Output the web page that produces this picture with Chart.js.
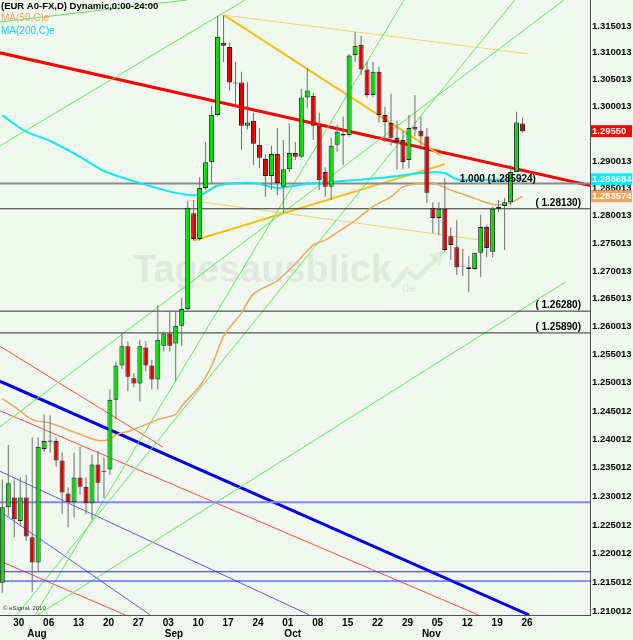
<!DOCTYPE html>
<html>
<head>
<meta charset="utf-8">
<title>EUR A0-FX daily</title>
<script src="https://cdn.jsdelivr.net/npm/chart.js@4.4.1/dist/chart.umd.min.js"></script>
<style>
  html, body { margin: 0; padding: 0; background: #f0f8f0; }
  canvas { display: block; }
</style>
</head>
<body>
<canvas id="fxChart" width="633" height="640"></canvas>
<script>
// daily bars, index 0 = Thu 26 Jul, index 87 = Mon 26 Nov
const candleOpen = [
  1.2150, 1.2281, 1.2298, 1.2257, 1.2298, 1.2229, 1.2185, 1.2383, 1.2398, 1.2397,
  1.2363, 1.2305, 1.2290, 1.2333, 1.2317, 1.2288, 1.2356, 1.2343, 1.2347, 1.2470,
  1.2531, 1.2565, 1.2508, 1.2499, 1.2563, 1.2531, 1.2506, 1.2566, 1.2588, 1.2570,
  1.2602, 1.2632, 1.2805, 1.2758, 1.2851, 1.2898, 1.2985, 1.3119, 1.3111, 1.3045,
  1.3045, 1.2965, 1.2974, 1.2930, 1.2904, 1.2873, 1.2913, 1.2853, 1.2885, 1.2915,
  1.2908, 1.3017, 1.3020, 1.2965, 1.2880, 1.2853, 1.2930, 1.2950, 1.2948, 1.3096,
  1.3115, 1.3069, 1.3022, 1.3065, 1.2985, 1.2970, 1.2943, 1.2939, 1.2902, 1.2963,
  1.2956, 1.2945, 1.2815, 1.2796, 1.2813, 1.2763, 1.2743, 1.2709, 1.2707, 1.2704,
  1.2733, 1.2780, 1.2735, 1.2813, 1.2818, 1.2825, 1.2880, 1.2969
];
const candleHigh = [
  1.2330, 1.2390, 1.2330, 1.2333, 1.2338, 1.2404, 1.2404, 1.2444, 1.2442, 1.2404,
  1.2377, 1.2316, 1.2377, 1.2387, 1.2333, 1.2373, 1.2380, 1.2368, 1.2488, 1.2538,
  1.2590, 1.2574, 1.2517, 1.2577, 1.2574, 1.2541, 1.2638, 1.2591, 1.2627, 1.2627,
  1.2652, 1.2827, 1.2829, 1.2871, 1.2935, 1.3002, 1.3169, 1.3170, 1.3119, 1.3083,
  1.3065, 1.3046, 1.2989, 1.2961, 1.2913, 1.2928, 1.2961, 1.2939, 1.2969, 1.2935,
  1.3033, 1.3072, 1.3026, 1.2989, 1.2889, 1.2943, 1.2967, 1.2982, 1.3098, 1.3139,
  1.3132, 1.3083, 1.3083, 1.3074, 1.3000, 1.3024, 1.2974, 1.2956, 1.2985, 1.3022,
  1.2982, 1.2961, 1.2825, 1.2825, 1.2869, 1.2779, 1.2792, 1.2740, 1.2727, 1.2733,
  1.2802, 1.2784, 1.2816, 1.2829, 1.2833, 1.2893, 1.2991, 1.2980
];
const candleLow = [
  1.2133, 1.2265, 1.2229, 1.2248, 1.2222, 1.2135, 1.2168, 1.2378, 1.2377, 1.2352,
  1.2269, 1.2246, 1.2263, 1.2303, 1.2269, 1.2260, 1.2290, 1.2297, 1.2338, 1.2435,
  1.2524, 1.2485, 1.2492, 1.2467, 1.2520, 1.2488, 1.2488, 1.2556, 1.2556, 1.2502,
  1.2565, 1.2629, 1.2755, 1.2755, 1.2847, 1.2860, 1.2982, 1.3083, 1.3030, 1.3000,
  1.2921, 1.2958, 1.2893, 1.2887, 1.2835, 1.2847, 1.2838, 1.2805, 1.2880, 1.2902,
  1.2906, 1.2998, 1.2939, 1.2847, 1.2835, 1.2829, 1.2917, 1.2893, 1.2945, 1.3083,
  1.3059, 1.3017, 1.3017, 1.2971, 1.2935, 1.2928, 1.2884, 1.2885, 1.2887, 1.2945,
  1.2921, 1.2824, 1.2769, 1.2765, 1.2735, 1.2720, 1.2693, 1.2691, 1.2662, 1.2702,
  1.2689, 1.2725, 1.2725, 1.2807, 1.2738, 1.2820, 1.2880, 1.2952
];
const candleClose = [
  1.2281, 1.2323, 1.2260, 1.2298, 1.2230, 1.2185, 1.2387, 1.2397, 1.2396, 1.2363,
  1.2307, 1.2290, 1.2333, 1.2317, 1.2288, 1.2356, 1.2324, 1.2345, 1.2470, 1.2531,
  1.2565, 1.2511, 1.2499, 1.2565, 1.2531, 1.2506, 1.2577, 1.2588, 1.2566, 1.2602,
  1.2632, 1.2815, 1.2758, 1.2851, 1.2898, 1.2985, 1.3130, 1.3113, 1.3045, 1.3043,
  1.2965, 1.2971, 1.2932, 1.2906, 1.2873, 1.2913, 1.2860, 1.2885, 1.2915, 1.2908,
  1.3017, 1.3030, 1.2965, 1.2865, 1.2853, 1.2928, 1.2954, 1.2947, 1.3095, 1.3113,
  1.3069, 1.3022, 1.3065, 1.2985, 1.2972, 1.2943, 1.2935, 1.2898, 1.2961, 1.2958,
  1.2945, 1.2842, 1.2796, 1.2813, 1.2738, 1.2747, 1.2707, 1.2708, 1.2704, 1.2733,
  1.2780, 1.2742, 1.2813, 1.2816, 1.2825, 1.2880, 1.2971, 1.2955
];

// moving averages, read at a few bars
const ma50Idx = [0, 2, 5, 8, 11, 14, 16, 18, 19, 21, 24, 26, 29, 30, 33, 35, 37, 40, 42, 46,
  49, 52, 54, 57, 59, 62, 65, 67, 69, 72, 75, 79, 81, 83, 85, 87];
const ma50Val = [1.2472, 1.2458, 1.2435, 1.2429, 1.2417, 1.2405, 1.2398, 1.2400, 1.2408, 1.2414,
  1.2426, 1.2435, 1.2444, 1.2459, 1.2494, 1.2530, 1.2583, 1.2625, 1.2659, 1.2683,
  1.2713, 1.2747, 1.2756, 1.2777, 1.2792, 1.2817, 1.2835, 1.2853, 1.2858, 1.2860,
  1.2847, 1.2832, 1.2824, 1.2820, 1.2824, 1.283574];
const ma200Idx = [0, 4, 8, 13, 17, 23, 29, 33, 36, 42, 46, 50, 54, 63, 71, 74, 76, 80, 85, 87];
const ma200Val = [1.2984, 1.2954, 1.2937, 1.2908, 1.2882, 1.2860, 1.2842, 1.2838, 1.2855, 1.2860,
  1.2851, 1.2857, 1.2861, 1.2869, 1.2879, 1.2878, 1.2867, 1.2866, 1.2866, 1.286684];

// drawn lines: [start bar, start price, end bar, end price]
const redTrend = [-0.4, 1.3100, 98.3, 1.28555];
const blueTrend = [-0.4, 1.25029, 88.1, 1.20945];
const redChannel = [[-0.4, 1.25651, 26.9, 1.23864], [-0.4, 1.24507, 79.55, 1.20948], [-0.4, 1.21875, 20.5, 1.20948]];
const blueChannel = [[-0.4, 1.23440, 51.3, 1.20948], [-0.4, 1.22739, 24.7, 1.20948]];
const greenFan = [
  [-0.4, 1.31574, 30.9, 1.31987], [-0.4, 1.29280, 40.6, 1.31987], [-0.4, 1.24223, 93.9, 1.31987],
  [5.47, 1.20945, 67.2, 1.31987], [2.39, 1.20945, 85.7, 1.31987], [5.9, 1.20945, 94.1, 1.26800]
];
const goldLines = [[37.07, 1.31704, 73.2, 1.29114], [32.06, 1.27555, 74.0, 1.28945]];
const paleLines = [[37.07, 1.31704, 87.9, 1.30982], [30.9, 1.28290, 82.4, 1.27527]];

// horizontal levels
const blackLevels = [1.2813, 1.2628, 1.2589];
const blackLevelText = ['( 1.28130)', '( 1.26280)', '( 1.25890)'];
const fibLevel = 1.285924;
const blueLevels = [1.2290, 1.2169, 1.2153];

// axes
const xTickIdx = [2, 7, 12, 17, 22, 27, 32, 37, 42, 47, 52, 57, 62, 67, 72, 77, 82, 87];
const xTickText = ['30', '06', '13', '20', '27', '03', '10', '17', '24', '01', '08', '15', '22', '29', '05', '12', '19', '26'];
const monthIdx = [4, 27, 47, 70];
const monthText = ['Aug', 'Sep', 'Oct', 'Nov'];
const yTicks = [1.315013, 1.310013, 1.305013, 1.300013, 1.295013, 1.290013, 1.285013, 1.280013,
  1.275013, 1.270013, 1.265013, 1.260013, 1.255013, 1.250013, 1.245012, 1.240012,
  1.235012, 1.230012, 1.225012, 1.220012, 1.215012, 1.210012];
const xMin = -0.385, xMax = 98.28;
const yMin = 1.20945, yMax = 1.31987;

const FONT = '"Liberation Sans", Arial, sans-serif';
const bars = candleOpen.map((_, i) => i);

function seg(s, color, width) {
  return {
    type: 'line',
    data: [{ x: s[0], y: s[1] }, { x: s[2], y: s[3] }],
    borderColor: color, borderWidth: width,
    pointRadius: 0, tension: 0, fill: false, order: 5
  };
}
function hline(v, color, width) {
  return seg([xMin, v, xMax, v], color, width);
}

const datasets = [
  {
    type: 'bar',
    data: bars.map(i => ({ x: i, y: [candleOpen[i], candleClose[i]] })),
    backgroundColor: bars.map(i => candleClose[i] >= candleOpen[i] ? '#00e000' : '#e80000'),
    borderColor: '#1c1c1c', borderWidth: 1, borderSkipped: false,
    barThickness: 5, grouped: false, inflateAmount: 0, order: 1
  },
  {
    type: 'bar',
    data: bars.map(i => ({ x: i, y: [candleLow[i], candleHigh[i]] })),
    backgroundColor: '#6e6e6e', borderWidth: 0,
    barThickness: 1, grouped: false, inflateAmount: 0, order: 2
  },
  {
    type: 'line', data: ma200Idx.map((d, k) => ({ x: d, y: ma200Val[k] })),
    borderColor: '#10e8f4', borderWidth: 2, pointRadius: 0, tension: 0.3, order: 3
  },
  {
    type: 'line', data: ma50Idx.map((d, k) => ({ x: d, y: ma50Val[k] })),
    borderColor: '#f2a65a', borderWidth: 1.5, pointRadius: 0, tension: 0.3, order: 3
  },
  hline(fibLevel, '#8a8a8a', 2),
  ...blackLevels.map(v => hline(v, '#303030', 1)),
  hline(blueLevels[0], '#8484ff', 2),
  hline(blueLevels[1], '#2a2aff', 1),
  hline(blueLevels[2], '#2a2aff', 1),
  ...greenFan.map(s => seg(s, '#5ee85e', 1)),
  ...redChannel.map(s => seg(s, '#ff4a4a', 1)),
  ...blueChannel.map(s => seg(s, '#5a5aff', 1)),
  ...paleLines.map(s => seg(s, '#f4d46a', 1)),
  ...goldLines.map(s => seg(s, '#f4c014', 2)),
  seg(blueTrend, '#0000e0', 3),
  seg(redTrend, '#ff0000', 3)
];

const overlay = {
  id: 'overlay',
  beforeDraw(chart) {
    const { ctx, width, height } = chart;
    ctx.save();
    ctx.fillStyle = '#f0f8f0';
    ctx.fillRect(0, 0, width, height);
    ctx.restore();
  },
  beforeDatasetsDraw(chart) {
    const ctx = chart.ctx;
    ctx.save();
    ctx.fillStyle = 'rgba(110,130,110,0.12)';
    ctx.font = 'bold 38px ' + FONT;
    ctx.textBaseline = 'alphabetic';
    ctx.fillText('Tagesausblick', 133, 282);
    ctx.font = 'bold 12px ' + FONT;
    ctx.fillText('de', 402, 292);
    ctx.strokeStyle = 'rgba(110,190,110,0.16)';
    ctx.fillStyle = 'rgba(110,190,110,0.16)';
    ctx.lineWidth = 5;
    ctx.lineJoin = 'round';
    ctx.beginPath();
    ctx.moveTo(392, 287); ctx.lineTo(407, 270); ctx.lineTo(417, 278); ctx.lineTo(436, 259);
    ctx.stroke();
    ctx.beginPath();
    ctx.moveTo(445, 250); ctx.lineTo(429, 255); ctx.lineTo(440, 266); ctx.closePath();
    ctx.fill();
    ctx.restore();
  },
  afterDraw(chart) {
    const { ctx, chartArea } = chart;
    const xs = chart.scales.x, ys = chart.scales.y;
    ctx.save();
    ctx.textBaseline = 'middle';

    // header
    ctx.font = 'bold 9.5px ' + FONT;
    ctx.fillStyle = '#000';
    ctx.fillText('(EUR A0-FX,D) Dynamic,0:00-24:00', 1, 6);
    ctx.font = '10px ' + FONT;
    ctx.fillStyle = '#f2a65a';
    ctx.fillText('MA(50,C)e', 1, 18);
    ctx.fillStyle = '#10d8f0';
    ctx.fillText('MA(200,C)e', 1, 31);

    // month names under the day numbers
    ctx.font = 'bold 10px ' + FONT;
    ctx.fillStyle = '#000';
    monthIdx.forEach((d, k) => ctx.fillText(monthText[k], xs.getPixelForValue(d) + 1, 634));

    // level captions
    ctx.textAlign = 'right';
    ctx.textBaseline = 'alphabetic';
    blackLevels.forEach((v, k) => ctx.fillText(blackLevelText[k], chartArea.right - 9, ys.getPixelForValue(v) - 3));
    ctx.textAlign = 'left';
    ctx.fillText('1.000 (' + fibLevel.toFixed(6) + ')', xs.getPixelForValue(76.5), ys.getPixelForValue(fibLevel) - 1);

    // price tags on the axis
    const lastClose = candleClose[candleClose.length - 1];
    const tags = [
      [lastClose, lastClose.toFixed(5), '#ff0000'],
      [ma200Val[ma200Val.length - 1], ma200Val[ma200Val.length - 1].toFixed(6), '#00f0ff'],
      [ma50Val[ma50Val.length - 1], ma50Val[ma50Val.length - 1].toFixed(6), '#f2a65a']
    ];
    ctx.textBaseline = 'middle';
    ctx.font = 'bold 9.5px ' + FONT;
    tags.forEach(([v, txt, col]) => {
      const py = ys.getPixelForValue(v);
      ctx.fillStyle = col;
      ctx.fillRect(chartArea.right + 1, py - 6, 41, 12);
      ctx.fillStyle = '#fff';
      ctx.fillText(txt, chartArea.right + 2, py + 0.5);
    });

    ctx.font = '6px ' + FONT;
    ctx.fillStyle = '#333';
    ctx.fillText('\u00a9 eSignal, 2010', 3, chartArea.bottom - 7);
    ctx.restore();
  }
};

Chart.defaults.font.family = FONT;

new Chart(document.getElementById('fxChart'), {
  type: 'line',
  data: { datasets },
  options: {
    responsive: false,
    animation: false,
    devicePixelRatio: 1,
    events: [],
    layout: { padding: 0, autoPadding: false },
    plugins: { legend: { display: false }, tooltip: { enabled: false }, title: { display: false } },
    scales: {
      x: {
        type: 'linear', min: xMin, max: xMax, bounds: 'data', offset: false,
        grid: { display: false, drawTicks: false },
        border: { display: true, color: '#505050' },
        afterBuildTicks: s => { s.ticks = xTickIdx.map(v => ({ value: v })); },
        afterFit: s => { s.height = 25; s.paddingLeft = 0; s.paddingRight = 0; },
        ticks: {
          autoSkip: false, maxRotation: 0, padding: 2, labelOffset: 4.5,
          color: '#000', font: { size: 10, weight: 'bold' },
          callback: v => xTickText[xTickIdx.indexOf(v)]
        }
      },
      y: {
        type: 'logarithmic', position: 'right', min: yMin, max: yMax, bounds: 'data',
        grid: { display: false, drawTicks: false },
        border: { display: true, color: '#505050' },
        afterBuildTicks: s => { s.ticks = yTicks.map(v => ({ value: v })); },
        afterFit: s => { s.width = 43; s.paddingTop = 0; s.paddingBottom = 0; },
        ticks: {
          autoSkip: false, padding: 2,
          color: '#000', font: { size: 9.5, weight: 'bold' },
          callback: v => v.toFixed(6)
        }
      }
    }
  },
  plugins: [overlay]
});
</script>
</body>
</html>
